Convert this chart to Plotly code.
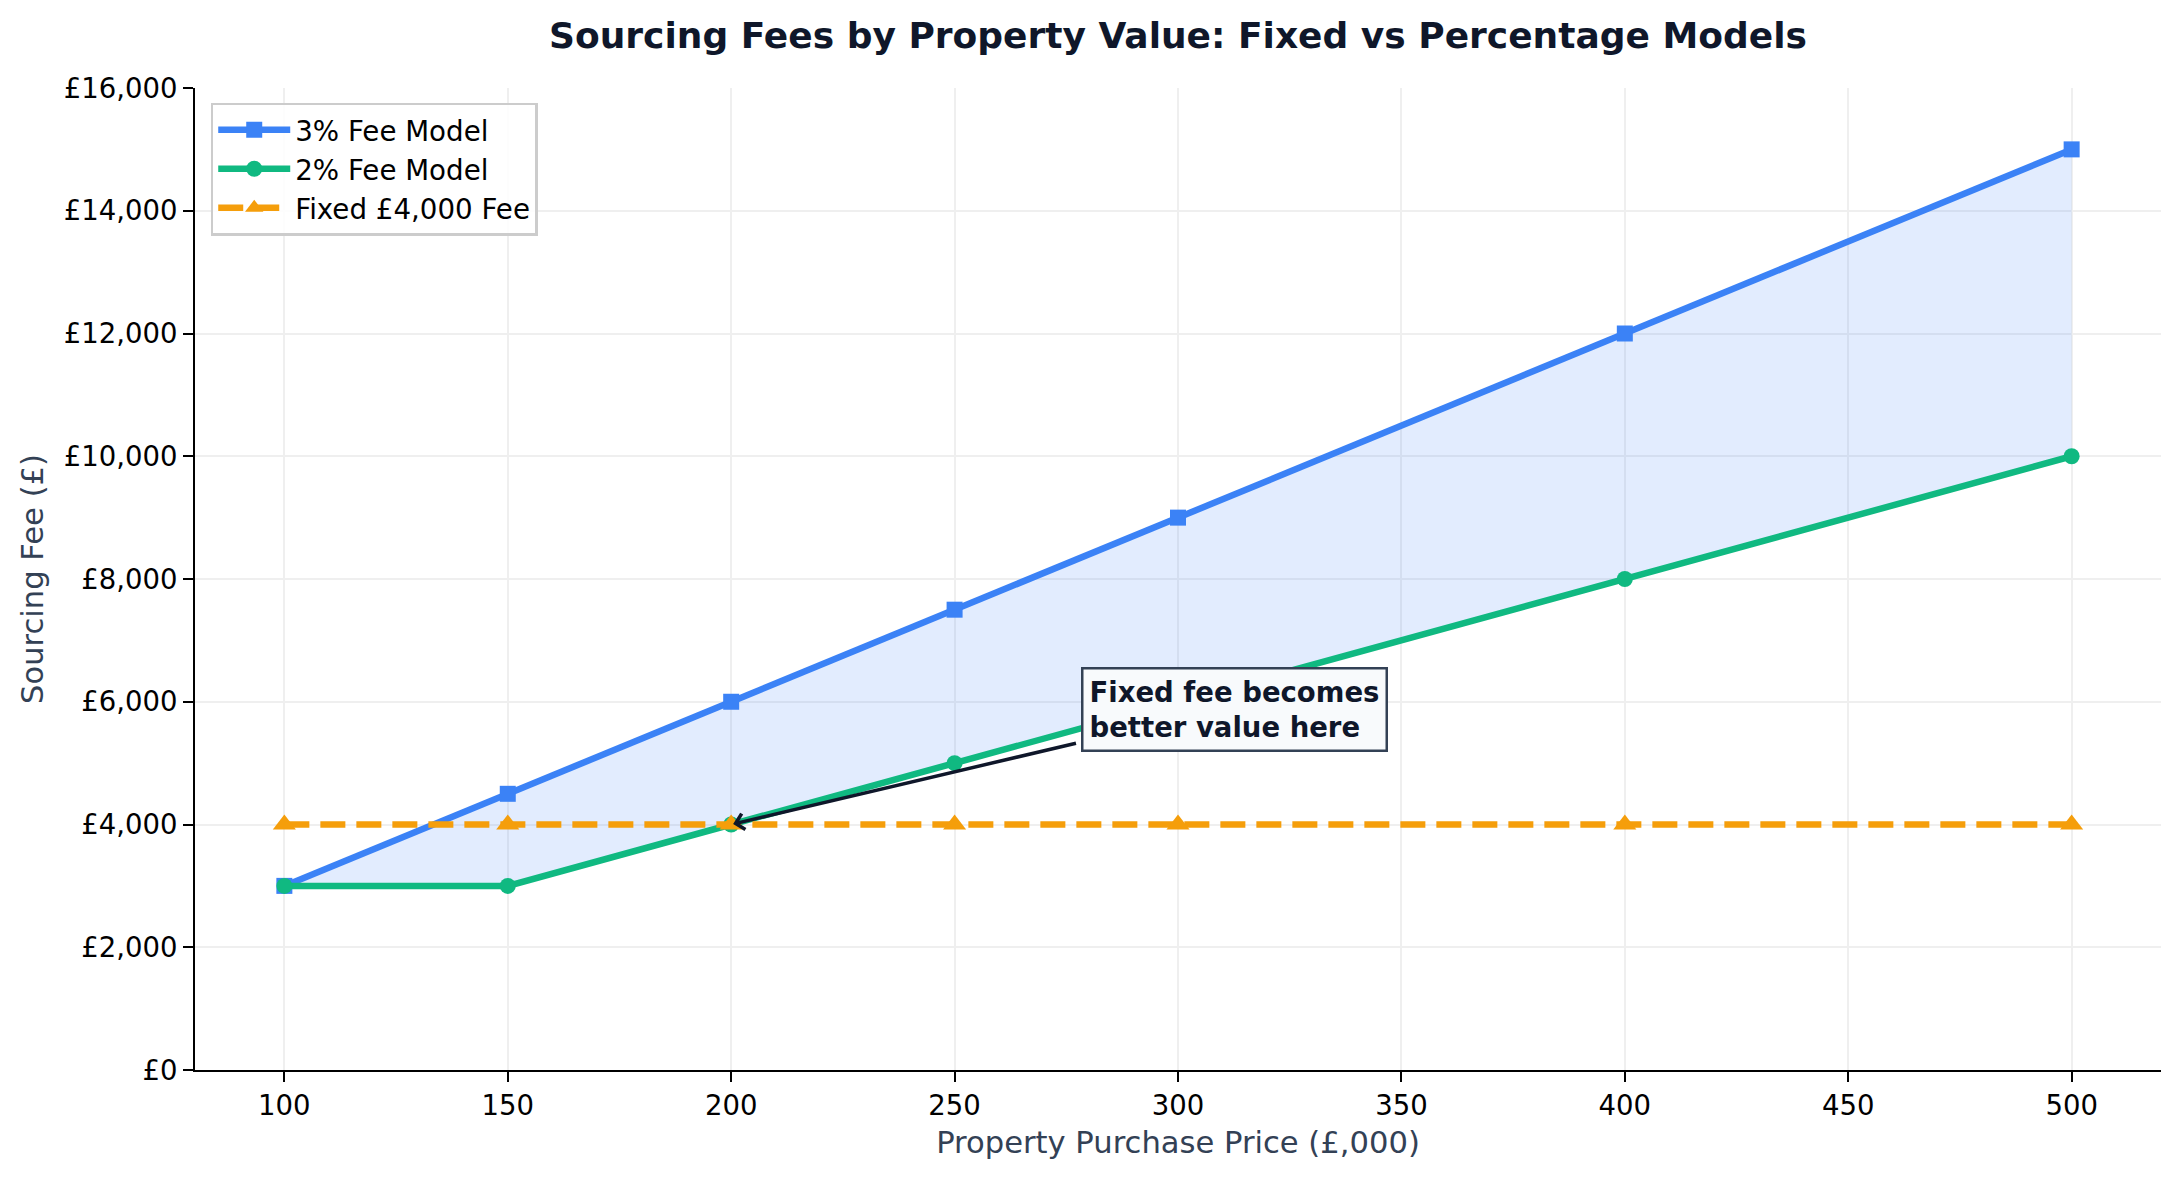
import plotly.graph_objects as go

# Data
prices = [100, 150, 200, 250, 300, 400, 500]
fee_3pct = [3000, 4500, 6000, 7500, 9000, 12000, 15000]
fee_2pct = [3000, 3000, 4000, 5000, 6000, 8000, 10000]
fee_fixed = [4000, 4000, 4000, 4000, 4000, 4000, 4000]
x_ticks = [100, 150, 200, 250, 300, 350, 400, 450, 500]
y_ticks = [0, 2000, 4000, 6000, 8000, 10000, 12000, 14000, 16000]
y_tick_labels = ["£0", "£2,000", "£4,000", "£6,000", "£8,000", "£10,000", "£12,000", "£14,000", "£16,000"]

BLUE = "#3b82f6"
GREEN = "#10b981"
ORANGE = "#f59e0b"
FONT = "DejaVu Sans"
GRID = "#efefef"

fig = go.Figure()

# Shaded band between the percentage models
fig.add_trace(go.Scatter(x=prices, y=fee_2pct, mode="lines", line=dict(width=0),
                         showlegend=False, hoverinfo="skip"))
fig.add_trace(go.Scatter(x=prices, y=fee_3pct, mode="lines", line=dict(width=0),
                         fill="tonexty", fillcolor="rgba(59,130,246,0.15)",
                         showlegend=False, hoverinfo="skip"))

fig.add_trace(go.Scatter(x=prices, y=fee_3pct, mode="lines+markers", name="3% Fee Model",
                         legendgroup="g1",
                         line=dict(color=BLUE, width=6.5),
                         marker=dict(symbol="square", size=16, color=BLUE)))
fig.add_trace(go.Scatter(x=prices, y=fee_2pct, mode="lines+markers", name="2% Fee Model",
                         legendgroup="g2",
                         line=dict(color=GREEN, width=6.5),
                         marker=dict(symbol="circle", size=16, color=GREEN)))
fig.add_trace(go.Scatter(x=prices, y=fee_fixed, mode="lines+markers", name="Fixed £4,000 Fee",
                         legendgroup="g3",
                         line=dict(color=ORANGE, width=6.5, dash="25px,11px"),
                         marker=dict(symbol="triangle-up", size=20, color=ORANGE)))

# Arrow
fig.add_annotation(x=200, y=4000, ax=277.5, ay=5330, xref="x", yref="y", axref="x", ayref="y",
                   text="", showarrow=True, arrowhead=4, arrowsize=0.9, arrowwidth=3.5,
                   arrowcolor="#0f172a", standoff=2)
# Label box
fig.add_annotation(x=312.6, y=5880, xref="x", yref="y", showarrow=False,
                   text="<b>Fixed fee becomes<br>better value here</b>", align="left",
                   font=dict(family=FONT, size=27.5, color="#0f172a"),
                   bgcolor="#f8fafc", bordercolor="#334155", borderwidth=2.5, borderpad=6,
                   xanchor="center", yanchor="middle")

fig.update_layout(
    width=2179, height=1178,
    margin=dict(l=195, r=18, t=88, b=108),
    paper_bgcolor="white", plot_bgcolor="white",
    font=dict(family=FONT, size=27, color="black"),
    title=dict(text="<b>Sourcing Fees by Property Value: Fixed vs Percentage Models</b>",
               x=0.5, xanchor="center", xref="paper", y=1 - 35 / 1178, yanchor="middle",
               font=dict(family=FONT, size=36, color="#0f172a")),
    legend=dict(x=0.008, y=0.985, xanchor="left", yanchor="top",
                bgcolor="rgba(255,255,255,0.85)", bordercolor="#cccccc", borderwidth=2.5,
                font=dict(family=FONT, size=27.7, color="black"),
                itemwidth=72, tracegroupgap=6, traceorder="normal"),
    showlegend=True,
)

fig.update_xaxes(range=[80, 520], tickvals=x_ticks, showgrid=True, gridcolor=GRID,
                 gridwidth=2, zeroline=False, showline=True, linecolor="black", linewidth=2.2,
                 ticks="outside", ticklen=10, tickwidth=2.2, tickcolor="black",
                 tickfont=dict(family=FONT, size=27.5, color="black"),
                 title=dict(text="Property Purchase Price (£,000)",
                            font=dict(family=FONT, size=30.6, color="#334155"), standoff=11),
                 mirror=False)
fig.update_yaxes(range=[0, 16000], tickvals=y_ticks, ticktext=y_tick_labels, showgrid=True,
                 gridcolor=GRID, gridwidth=2, zeroline=False, showline=True,
                 linecolor="black", linewidth=2.2, ticks="outside", ticklen=10, tickwidth=2.2,
                 tickcolor="black", tickfont=dict(family=FONT, size=27.5, color="black"),
                 title=dict(text="Sourcing Fee (£)", font=dict(family=FONT, size=30.6, color="#334155"),
                            standoff=11),
                 mirror=False)

fig.write_html("out.html")
